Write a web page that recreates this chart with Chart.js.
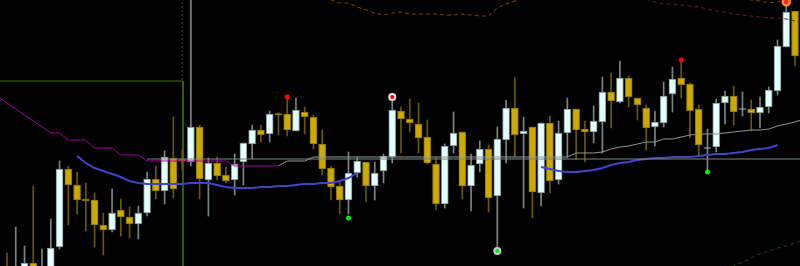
<!DOCTYPE html>
<html>
<head>
<meta charset="utf-8">
<title>Candles</title>
<script src="https://cdn.jsdelivr.net/npm/chart.js@4.4.0/dist/chart.umd.min.js"></script>
<style>
    html, body { margin: 0; padding: 0; background: #000; overflow: hidden; }
    canvas { display: block; }
</style>
</head>
<body>
<canvas id="chart" width="800" height="266"></canvas>
<script>
// Candle data (price units, bottom of window = 0)
const opens = [
    -2, -24, -9, 3, -19, -4, 19, 97, 81, 67,
    66, 41, 36, 56, 49, 42, 53, 87, 75, 108,
    106.5, 104, 139, 86, 103, 91, 86, 104, 122, 136,
    132, 152.5, 152, 135, 154, 149, 122, 98, 80, 66,
    93, 104, 80, 95, 109, 155, 147, 142, 129, 102,
    62, 120, 134, 80, 102, 117, 70, 126, 158, 132,
    139, 73, 143, 86, 133, 157, 137, 134, 144, 174,
    164, 188, 168, 158, 139, 143, 172, 188, 182, 157,
    117.5, 119, 163, 170, 156.5, 157, 153, 159, 175, 219,
    255
];
const closes = [
    -9, -4, 3, -6, -2, 18, 97, 81, 66, 65,
    41, 36, 53, 49, 42, 53, 87, 75, 109, 77,
    105, 139, 87, 103, 90, 85, 102, 123, 136, 131,
    152, 151, 136, 156, 149, 122, 97, 79, 66, 93,
    105, 80, 93, 110, 156, 147, 143, 128, 103, 62,
    120, 133, 80, 101, 117, 68, 127, 158, 131, 135,
    74, 143, 85, 133, 157, 136, 134, 145, 174, 165,
    188, 169, 161, 138, 144, 170, 187, 181, 155, 121,
    118.5, 163, 170, 154, 157.5, 153, 159, 176, 220, 254,
    210
];
const highs = [
    13, 39, 20, 80, 17, 47, 105, 100, 94, 83,
    73, 53, 77, 67, 59, 60, 94, 100, 115, 149,
    116, 268, 141, 108, 109, 99, 112, 123, 141, 141,
    155, 153, 169, 168, 159, 151, 136, 100, 84, 114,
    109, 104, 104, 112, 169, 159, 167, 163, 146, 109,
    122, 154, 134, 112, 125, 121, 139, 166, 188, 149,
    139, 143, 150, 145, 168, 157, 145, 160, 189, 193,
    205, 190, 168, 161, 155, 184, 199, 206, 183, 161,
    137, 167, 175, 180, 174, 166, 169, 179, 226, 264,
    255
];
const lows = [
    -14, -29, -14, -12, -24, -9, 17, 41, 52, 35,
    19, 11, 34, 30, 28, 27, 50, 67, 62, 68,
    96, 100, 67, 50, 86, 83, 71, 81, 107, 124,
    124, 131, 130, 135, 132, 117, 91, 66, 52, 52,
    89, 64, 66, 83, 103, 113, 134, 113, 102, 56,
    58, 113, 67, 55, 94, 54, 15, 103, 109, 58,
    48, 60, 73, 82, 109, 106, 104, 123, 113, 138,
    163, 159, 146, 116, 120, 139, 154, 168, 128, 111,
    94, 114, 142, 141, 150, 135, 138, 153, 171, 219,
    200
];

// Indicator lines: first bar index, then values
const maStartA = 8;
const maA = [110, 103, 98, 95, 92, 89, 85, 83, 82, 82, 82, 82, 82, 83, 83, 83, 81, 79, 78, 78,
    78, 79, 79, 80, 80, 81, 82, 82, 83, 83, 85, 88, 93];
const maStartB = 61;
const maB = [99, 97, 95, 94, 94, 95, 96, 98, 101, 103, 104, 106, 107, 108, 108, 109, 109, 109,
    110, 111, 112, 112, 113, 114, 116, 117, 118, 121];

const stopDownStart = -1;
const stopDown = [169, 163, 157, 151, 145, 139, 133, 133, 126, 126, 126, 118, 118, 118, 111, 111, 111,
    105, 105, 105, 105, 105, 105, 105, 105, 105, 105, 100, 100, 100, 100, 100, 100];
const stopUpStart = 31;
const stopUp = [100, 105, 105, 105,
    109, 109, 109, 109, 109, 109, 109, 109, 109, 109, 109, 109, 109, 109, 109,
    109, 109, 109, 109, 109, 109, 109, 109, 109, 109, 109, 109, 109, 109, 109,
    113, 113, 113, 114, 117, 119, 120, 122, 124, 124, 127, 127, 129, 131, 132, 132, 132,
    133, 134, 135, 136, 136, 137, 140, 142, 144, 147];

const upperBandStart = 37;
const upperBand = [266, 263, 263, 259, 256, 253, 251, 253, 254, 252, 252, 252, 252, 251, 251, 252,
    251, 250, 250, 258, 262, 265, 268];
const upperBand2Start = 84;
const upperBand2 = [268, 266, 265, 263, 264, 267];
const outerBandStart = 73;
const outerBand = [267, 264, 262, 262, 261, 260, 259, 257, 255, 254, 252, 251, 250, 249, 248, 248,
    247, 245, 243];
const lowerBandStart = 82;
const lowerBand = [-3, 0, 4, 8, 12, 15, 18, 20, 23, 26];

// Levels and markers
const grayLevel = 107;
const grayLevelFrom = 16;
const greenLevel = 185;
const greenBar = 20.1;
const redDots = [[32, 169], [77, 206]];
const redRings = [[44, 169]];
const topRing = [[89, 264]];
const greenDots = [[39, 48], [80, 94]];
const greenRings = [[56, 15]];

// Helpers
const series = (start, vals) => vals.map((v, k) => ({ x: start + k, y: v }));
const pts = list => list.map(([x, y]) => ({ x, y }));
const lastBar = opens.length; // one past the right edge

const isUp = opens.map((o, i) => closes[i] >= o);
const bodyFill = isUp.map(u => u ? '#e4ffff' : '#ccaa00');
const bodyEdge = isUp.map(u => u ? '#7d8a8a' : '#8a7200');
const wickColor = isUp.map(u => u ? '#7b8585' : '#6b5900');

const wicks = lows.map((l, i) => ({ x: i, y: [l, highs[i]] }));
const bodies = opens.map((o, i) => ({ x: i, y: [o, closes[i]] }));

function lineSet(data, color, extra) {
    return Object.assign({
        type: 'line',
        data,
        borderColor: color,
        borderWidth: 1,
        pointRadius: 0,
        tension: 0,
        fill: false,
        order: 2
    }, extra || {});
}

function dotSet(data, fill, edge, radius, edgeWidth) {
    return {
        type: 'line',
        data,
        showLine: false,
        pointRadius: radius,
        pointBackgroundColor: fill,
        pointBorderColor: edge,
        pointBorderWidth: edgeWidth,
        order: 1
    };
}

new Chart(document.getElementById('chart'), {
    type: 'bar',
    data: {
        datasets: [
            {
                data: wicks,
                backgroundColor: wickColor,
                barThickness: 1,
                grouped: false,
                order: 6
            },
            {
                data: bodies,
                backgroundColor: bodyFill,
                borderColor: bodyEdge,
                borderWidth: 1,
                borderSkipped: false,
                barThickness: 7,
                grouped: false,
                order: 5
            },
            lineSet(series(stopDownStart, stopDown), '#9b009b'),
            lineSet(series(stopUpStart, stopUp), '#8f9999'),
            lineSet([{ x: grayLevelFrom, y: grayLevel }, { x: lastBar, y: grayLevel }], '#7a8585'),
            lineSet(series(maStartA, maA), '#4343c8', { borderWidth: 2 }),
            lineSet(series(maStartB, maB), '#4343c8', { borderWidth: 2 }),
            lineSet(series(upperBandStart, upperBand), '#7a4212', { borderDash: [4, 3] }),
            lineSet(series(upperBand2Start, upperBand2), '#7a4212', { borderDash: [4, 3] }),
            lineSet(series(outerBandStart, outerBand), '#5e1b3c', { borderDash: [4, 3] }),
            lineSet(series(lowerBandStart, lowerBand), '#0f4a2a', { borderDash: [4, 3] }),
            lineSet([{ x: -1, y: greenLevel }, { x: greenBar, y: greenLevel }, { x: greenBar, y: -2 }],
                '#3f6a0c', { order: 7 }),
            lineSet([{ x: greenBar - 0.1, y: 268 }, { x: greenBar - 0.1, y: greenLevel }],
                '#3a3a3a', { borderDash: [2, 2], order: 7 }),
            dotSet(pts(redDots), '#ff0000', '#ff0000', 2.5, 0),
            dotSet(pts(redRings), '#ff0000', '#e8e8e8', 3, 2),
            dotSet(pts(topRing), '#ff2020', '#ff8a3c', 3.5, 2.5),
            dotSet(pts(greenDots), '#00ee00', '#00ee00', 2.5, 0),
            dotSet(pts(greenRings), '#00ee00', '#c8c8c8', 3, 2)
        ]
    },
    options: {
        responsive: false,
        animation: false,
        devicePixelRatio: 1,
        layout: { padding: 0, autoPadding: false },
        plugins: {
            legend: { display: false },
            tooltip: { enabled: false }
        },
        scales: {
            x: { type: 'linear', min: -0.8, max: 90.57, offset: false, display: false },
            y: { type: 'linear', min: 0, max: 266, display: false }
        }
    }
});
</script>
</body>
</html>
